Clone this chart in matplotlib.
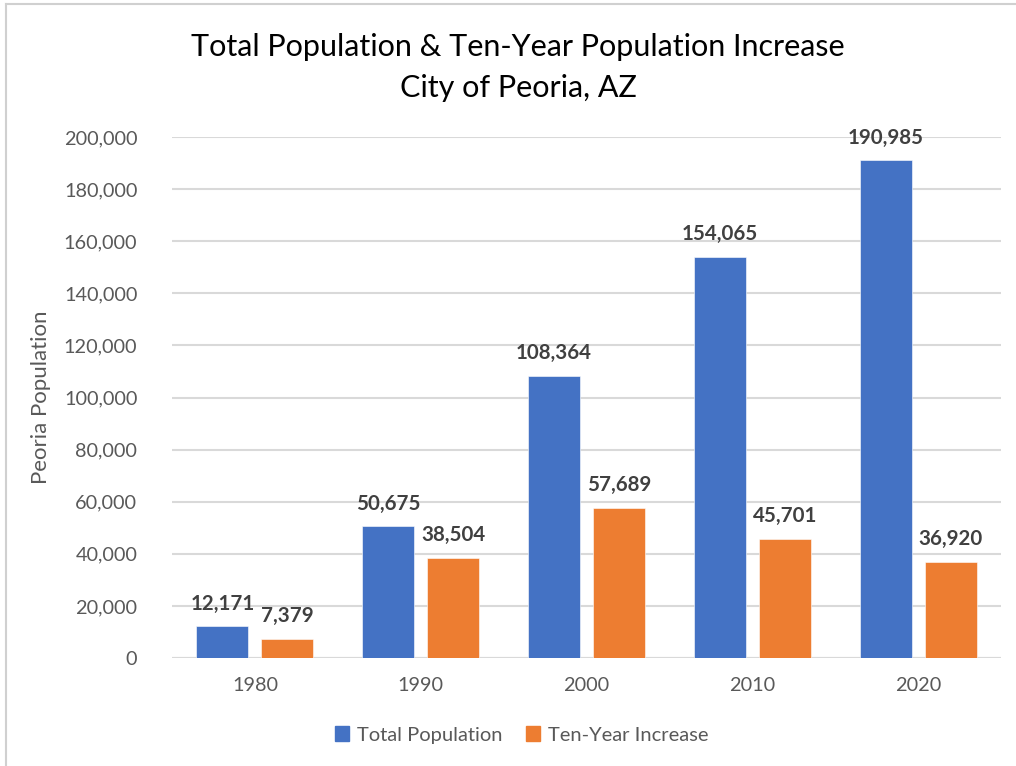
import matplotlib
matplotlib.use("Agg")
import matplotlib.pyplot as plt
from matplotlib.patches import Rectangle
from matplotlib.lines import Line2D
import numpy as np

years = ["1980", "1990", "2000", "2010", "2020"]
total_population = [12171, 50675, 108364, 154065, 190985]
ten_year_increase = [7379, 38504, 57689, 45701, 36920]
series_names = ["Total Population", "Ten-Year Increase"]
yticks = [0, 20000, 40000, 60000, 80000, 100000, 120000, 140000, 160000, 180000, 200000]

BLUE = "#4472C4"
ORANGE = "#ED7D31"
GRAY = "#595959"
DARK = "#404040"
GRID = "#D9D9D9"

plt.rcParams['font.family'] = ['Lato', 'DejaVu Sans']

fig = plt.figure(figsize=(10.16, 7.66), dpi=100)
ax = fig.add_axes([172/1016, 1-658/766, (1001-172)/1016, (658-137)/766])

x = np.arange(len(years))
w = 0.313
off = 0.196
b1 = ax.bar(x - off, total_population, w, color=BLUE, edgecolor="white", linewidth=0.4, zorder=3)
b2 = ax.bar(x + off, ten_year_increase, w, color=ORANGE, edgecolor="white", linewidth=0.4, zorder=3)

for bars, vals in ((b1, total_population), (b2, ten_year_increase)):
    for r, v in zip(bars, vals):
        ax.annotate(f"{v:,}", (r.get_x() + r.get_width()/2, v), xytext=(0, 9),
                    textcoords="offset points", ha="center", va="bottom",
                    fontsize=14.8, fontweight="bold", color=DARK, zorder=4)

ax.set_xlim(-0.5, len(years) - 0.5)
ax.set_ylim(0, 200000)
ax.set_yticks(yticks)
ax.set_yticklabels([f"{t:,}" for t in yticks])
ax.set_xticks(x)
ax.set_xticklabels(years)
ax.tick_params(axis="both", length=0, labelsize=14.3, labelcolor=GRAY)
ax.tick_params(axis="y", pad=25)
ax.tick_params(axis="x", pad=14)
ax.grid(axis="y", color=GRID, linewidth=1.5, zorder=0)
ax.set_axisbelow(True)
for s in ax.spines.values():
    s.set_visible(False)
ax.axhline(0, color=GRID, linewidth=1.5, zorder=2)

ax.set_ylabel("Peoria Population", fontsize=16, color=GRAY, labelpad=9)

fig.text(518/1016, 1-47/766, "Total Population & Ten-Year Population Increase",
         ha="center", va="center", fontsize=22, color="black")
fig.text(518/1016, 1-88/766, "City of Peoria, AZ",
         ha="center", va="center", fontsize=22, color="black")

handles = [Rectangle((0, 0), 1, 1, color=BLUE), Rectangle((0, 0), 1, 1, color=ORANGE)]
leg = fig.legend(handles, series_names, loc="center", bbox_to_anchor=(522/1016, 1-735/766),
                 ncol=2, frameon=False, fontsize=14.5, handlelength=0.7, handleheight=0.7,
                 handletextpad=0.4, columnspacing=1.15, labelcolor=GRAY)

# outer frame (left and top edges)
fig.add_artist(Line2D([6/1016, 6/1016], [0, 1-4/766], transform=fig.transFigure, color="#D0D0D0", linewidth=1.5))
fig.add_artist(Line2D([6/1016, 1], [1-4/766, 1-4/766], transform=fig.transFigure, color="#D0D0D0", linewidth=1.5))

fig.savefig("out.png", dpi=100, facecolor="white")
